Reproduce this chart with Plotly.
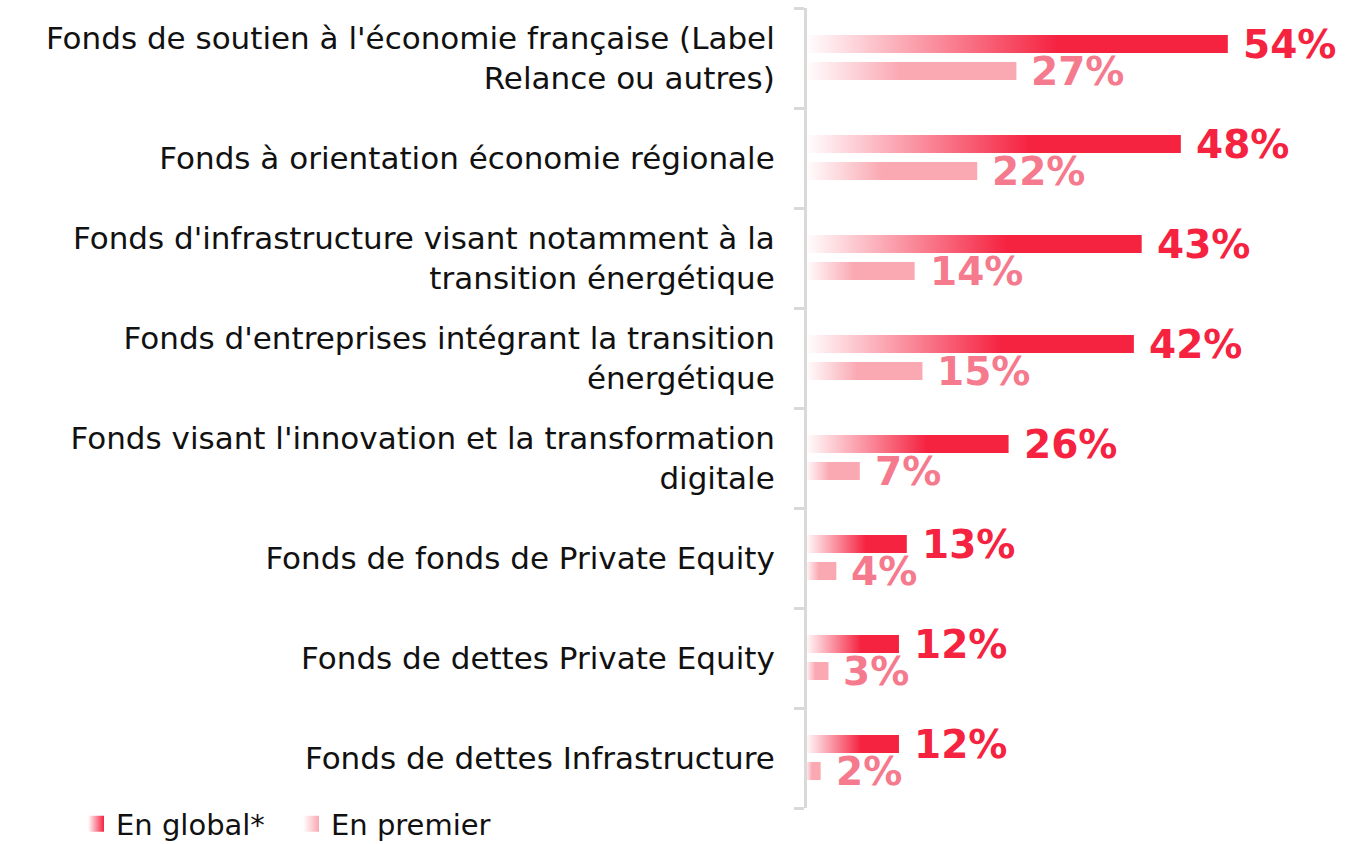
import plotly.graph_objects as go

# Survey results: share of respondents interested in each fund type
categories = [
    "Fonds de soutien à l'économie française (Label<br>Relance ou autres)",
    "Fonds à orientation économie régionale",
    "Fonds d'infrastructure visant notamment à la<br>transition énergétique",
    "Fonds d'entreprises intégrant la transition<br>énergétique",
    "Fonds visant l'innovation et la transformation<br>digitale",
    "Fonds de fonds de Private Equity",
    "Fonds de dettes Private Equity",
    "Fonds de dettes Infrastructure",
]
en_global = [54, 48, 43, 42, 26, 13, 12, 12]
en_premier = [27, 22, 14, 15, 7, 4, 3, 2]
series_names = ["En global*", "En premier"]

RED = "rgb(245,34,64)"
PINK = "rgb(250,168,178)"
PINK_TEXT = "rgb(246,122,141)"
GREY = "#d9d9d9"
LABEL_FONT = "DejaVu Sans"

BAR_H = 0.18
OFFSETS = {"global": -0.14, "premier": 0.13}

fig = go.Figure()


def add_bar(value, center, color, stop):
    """Horizontal bar drawn as a filled polygon with a white-to-colour gradient."""
    y0, y1 = center - BAR_H / 2, center + BAR_H / 2
    fig.add_trace(go.Scatter(
        x=[0, value, value, 0, 0],
        y=[y0, y0, y1, y1, y0],
        mode="none",
        fill="toself",
        fillgradient=dict(
            type="horizontal",
            colorscale=[[0, "rgb(255,255,255)"], [stop, color], [1, color]],
        ),
        hoverinfo="skip",
        showlegend=False,
    ))


annotations = []
for i, (g, p) in enumerate(zip(en_global, en_premier)):
    yg = i + OFFSETS["global"]
    yp = i + OFFSETS["premier"]
    add_bar(g, yg, RED, 0.6)
    add_bar(p, yp, PINK, 0.45)
    annotations.append(dict(
        x=g, y=yg, text=f"{g}%", xanchor="left", yanchor="middle",
        xshift=13, showarrow=False,
        font=dict(family=LABEL_FONT, size=39, color=RED, weight="bold"),
    ))
    annotations.append(dict(
        x=p, y=yp, text=f"{p}%", xanchor="left", yanchor="middle",
        xshift=13, showarrow=False,
        font=dict(family=LABEL_FONT, size=39, color=PINK_TEXT, weight="bold"),
    ))

# Legend entries: gradient squares
for name, color in zip(series_names, [RED, PINK]):
    fig.add_trace(go.Scatter(
        x=[None], y=[None], mode="markers", name=name,
        marker=dict(symbol="square", size=16, color="white",
                    gradient=dict(type="horizontal", color=color)),
    ))

PLOT_LEFT = 807
PLOT_W = 1348 - PLOT_LEFT
PX_PER_UNIT = 7.83
X0 = 2 / PX_PER_UNIT  # value zero sits just under the axis line

fig.update_layout(
    width=1348, height=844,
    margin=dict(l=PLOT_LEFT, r=0, t=8, b=36, autoexpand=False),
    paper_bgcolor="white", plot_bgcolor="white",
    font=dict(family=LABEL_FONT, size=31, color="#111111"),
    xaxis=dict(range=[X0, X0 + PLOT_W / PX_PER_UNIT], visible=False, fixedrange=True),
    yaxis=dict(
        range=[7.5, -0.5],
        tickmode="array",
        tickvals=list(range(len(categories))),
        ticktext=categories,
        ticks="",
        ticklabelstandoff=23,
        showgrid=False, zeroline=False,
        showline=True, linecolor=GREY, linewidth=3,
        tickfont=dict(size=31, color="#111111"),
        minor=dict(
            tickmode="array",
            tickvals=[k - 0.5 for k in range(len(categories) + 1)],
            ticks="outside", ticklen=10, tickwidth=3, tickcolor=GREY,
            showgrid=False,
        ),
        fixedrange=True,
        automargin=False,
    ),
    showlegend=True,
    legend=dict(
        orientation="h",
        x=(76 - PLOT_LEFT) / PLOT_W, xanchor="left",
        y=-0.020, yanchor="middle",
        font=dict(size=29, color="#111111"),
        bgcolor="rgba(0,0,0,0)",
        entrywidth=170, entrywidthmode="pixels",
    ),
    annotations=annotations,
)

fig.write_html("out.html")
